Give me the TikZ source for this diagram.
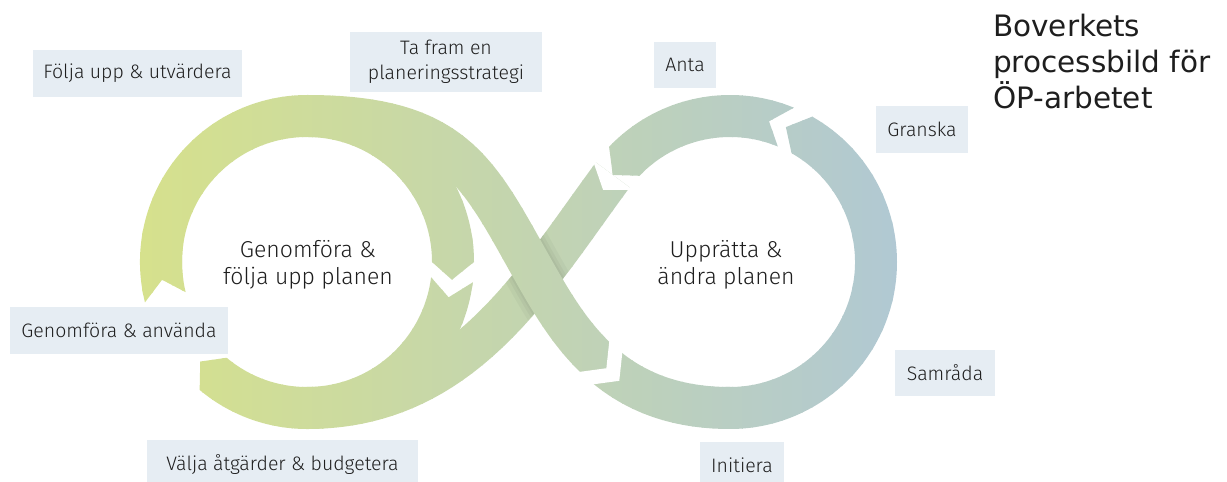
\documentclass[tikz,border=0pt]{standalone}
\usepackage{fontspec}
\IfFontExistsTF{Fira Sans Light}{\setmainfont{Fira Sans Light}}{\setmainfont{Fira Sans}}
\newfontfamily\titlefont{DejaVu Sans}
\usetikzlibrary{calc}
\definecolor{gL}{RGB}{214,225,140}
\definecolor{gR}{RGB}{176,200,212}
\definecolor{boxc}{RGB}{230,237,243}
\definecolor{txt}{RGB}{30,30,30}
\newcommand{\bandBpath}{(B0) .. controls (C1) and (C2) .. (Bm) .. controls (D1) and (D2) .. (B3)}
\newcommand{\loopshapes}[1]{%
  \fill[#1] ($(CL)+(194:167)$) arc[start angle=194,end angle=0,radius=167]
     -- ($(CL)+(-7:146)$) -- ($(CL)+(0:125)$) arc[start angle=0,end angle=194,radius=125]
     -- ($(CL)+(187:146)$) -- cycle;
  \fill[#1] ($(CL)+(-7:167)$) arc[start angle=-7,end angle=-130,radius=167]
     -- ($(CL)+(-137:146)$) -- ($(CL)+(-130:125)$) arc[start angle=-130,end angle=-7,radius=125]
     -- ($(CL)+(-14:146)$) -- cycle;
  \fill[#1] ($(CR)+(-92:167)$) arc[start angle=-92,end angle=60.5,radius=167]
     -- ($(CR)+(67.5:146)$) -- ($(CR)+(60.5:125)$) arc[start angle=60.5,end angle=-92,radius=125] -- cycle;
  \fill[#1] ($(CR)+(67.5:167)$) arc[start angle=67.5,end angle=136.4,radius=167]
     -- ($(CR)+(143.4:146)$) -- ($(CR)+(136.4:125)$) arc[start angle=136.4,end angle=67.5,radius=125]
     -- ($(CR)+(74.5:146)$) -- cycle;
  \draw[#1,line width=42pt] (A0) .. controls (A1) and (A2) .. (A3);
  \begin{scope}
    \clip ($(a1)!21pt!90:(a1x)$) -- ($(a2)!21pt!90:(a2x)$) -- ($(a3)!21pt!90:(a3x)$) -- ($(a4)!21pt!90:(a4x)$)
       -- ($(a4)!21pt!-90:(a4x)$) -- ($(a3)!21pt!-90:(a3x)$) -- ($(a2)!21pt!-90:(a2x)$) -- ($(a1)!21pt!-90:(a1x)$) -- cycle;
    \draw[black,opacity=0.03,line width=60pt] \bandBpath;
    \draw[black,opacity=0.035,line width=52pt] \bandBpath;
    \draw[black,opacity=0.035,line width=46pt] \bandBpath;
  \end{scope}
  \draw[#1,line width=42pt] \bandBpath;
}
\begin{document}
\begin{tikzpicture}[x=1pt,y=1pt,
  lbl/.style={fill=boxc, text=txt, font=\fontsize{19.5}{25}\selectfont, align=center, inner sep=0pt},
  ctr/.style={text=txt, font=\fontsize{23}{27}\selectfont, align=center, inner sep=0pt},
  ttl/.style={text=txt, font=\titlefont\fontsize{29.5}{36}\selectfont, anchor=base west, inner sep=0pt}]
\useasboundingbox (0,0) rectangle (1227,482);
\coordinate (CL) at (307,220);
\coordinate (CR) at (730,220);
% band A: from the top-left of the right loop down to the bottom of the left loop
\coordinate (A0) at ($(CR)+(143.4:146)$);
\coordinate (A1) at ($(A0)+(233.4:130)$);
\coordinate (A2) at (464,74);
\coordinate (A3) at (307,74);
% band B: from the top of the left loop down to the bottom of the right loop
\coordinate (B0) at (307,366);
\coordinate (C1) at (462,366);
\coordinate (C2) at (480,304);
\coordinate (Bm) at (540,200);
\coordinate (D1) at (575,139.4);
\coordinate (D2) at (620,74);
\coordinate (B3) at (730,74);
\path (A0) .. controls (A1) and (A2) .. (A3)
  coordinate[pos=0.12] (a1) coordinate[pos=0.13] (a1x)
  coordinate[pos=0.24] (a2) coordinate[pos=0.25] (a2x)
  coordinate[pos=0.36] (a3) coordinate[pos=0.37] (a3x)
  coordinate[pos=0.48] (a4) coordinate[pos=0.49] (a4x);
\foreach \i in {0,...,80}{
  \pgfmathsetmacro{\xa}{132+10*\i}
  \pgfmathsetmacro{\pc}{max(0,min(100,(\xa+5-140)/7.7))}
  \begin{scope}
    \clip (\xa,0) rectangle ({\xa+11},482);
    \colorlet{cur}{gR!\pc!gL}
    \loopshapes{cur}
  \end{scope}
}
% notch at the tail of the crossing band A
\fill[white] ($(CR)+(143.4:171)$) -- ($(CR)+(150.4:146)$) -- ($(CR)+(143.4:121)$) -- cycle;
% chevron gap on band B
\path (Bm) .. controls (D1) and (D2) .. (B3) coordinate[pos=0.42] (Q) coordinate[pos=0.43] (Qx);
\coordinate (gU) at ($(Q)!23pt!90:(Qx)$);
\coordinate (gD) at ($(Q)!23pt!-90:(Qx)$);
\coordinate (gT) at ($(Q)!18pt!(Qx)$);
\coordinate (gN) at ($(Q)!36pt!(Qx)$);
\fill[white] (gU) -- (gT) -- (gD) -- ($(gD)+(gT)-(Q)$) -- (gN) -- ($(gU)+(gT)-(Q)$) -- cycle;
% labels
\node[lbl, minimum width=209pt, minimum height=47pt] (l1) at (137.5,408.5) {Följa upp \& utvärdera};
\node[lbl, minimum width=192pt, minimum height=60pt] (l2) at (446,420) {Ta fram en\\planeringsstrategi};
\node[lbl, minimum width=62pt, minimum height=46pt] (l3) at (685,417) {Anta};
\node[lbl, minimum width=92pt, minimum height=47pt] (l4) at (922,352.5) {Granska};
\node[lbl, minimum width=218pt, minimum height=47pt] (l5) at (119,151.5) {Genomföra \& använda};
\node[lbl, minimum width=100pt, minimum height=46pt] (l6) at (945,109) {Samråda};
\node[lbl, minimum width=271pt, minimum height=48pt] (l7) at (282.5,18) {Välja åtgärder \& budgetera};
\node[lbl, minimum width=84pt, minimum height=46pt] (l8) at (742,17) {Initiera};
\node[ctr] (c1) at (308,217) {Genomföra \&\\följa upp planen};
\node[ctr] (c2) at (726,217) {Upprätta \&\\ändra planen};
\node[ttl] (t1) at (993,445) {Boverkets};
\node[ttl] (t2) at (993,409) {processbild för};
\node[ttl] (t3) at (993,373) {ÖP-arbetet};
\end{tikzpicture}
\end{document}
